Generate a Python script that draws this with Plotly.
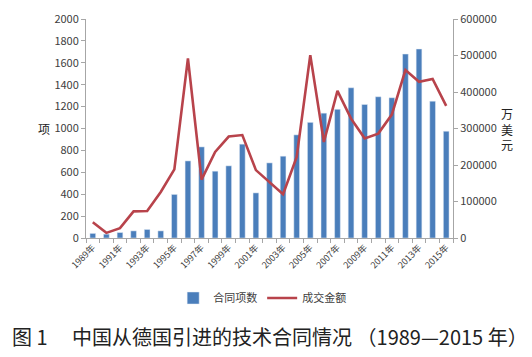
import plotly.graph_objects as go

years = list(range(1989, 2016))
contracts = [42, 35, 50, 65, 78, 65, 398, 704, 832, 610, 659, 857, 412, 686, 747,
             942, 1056, 1140, 1175, 1372, 1220, 1290, 1281, 1680, 1726, 1250, 975]
amount = [43000, 14000, 27000, 73000, 74000, 126000, 188000, 492000, 160000, 236000,
          278000, 282000, 186000, 154000, 120000, 222000, 501000, 263000, 403000, 327000,
          273000, 286000, 338000, 460000, 428000, 436000, 362000]
tick_years = years[::2]
tick_labels = [f"{y}年" for y in tick_years]

FONT = "Noto Sans CJK SC"
BLUE = "#4a7ebb"
RED = "#b8434b"
AX = "#a6a6a6"
TXT = "#404040"

fig = go.Figure()
fig.add_trace(go.Bar(x=years, y=contracts, name="合同项数", marker_color=BLUE,
                     width=0.42, yaxis="y"))
fig.add_trace(go.Scatter(x=years, y=amount, name="成交金额", mode="lines",
                         line=dict(color=RED, width=2.6), yaxis="y2"))

fig.update_layout(
    width=524, height=349, autosize=False,
    margin=dict(l=78, r=79, t=11, b=119, autoexpand=False),
    paper_bgcolor="white", plot_bgcolor="white",
    font=dict(family=FONT, color=TXT, size=11),
    showlegend=True,
    legend=dict(orientation="h", x=0.48, xanchor="center", y=-0.274, yanchor="middle",
                font=dict(size=11, color=TXT), tracegroupgap=0,
                bgcolor="rgba(0,0,0,0)"),
    xaxis=dict(range=[1988.5, 2015.5], tickmode="array", tickvals=tick_years,
               ticktext=tick_labels, tickangle=-45, ticks="", showgrid=False,
               showline=True, linecolor=AX, linewidth=1, zeroline=False,
               tickfont=dict(size=9, color=TXT),
               minor=dict(ticks="outside", tick0=1988.5, dtick=1, ticklen=4,
                          tickcolor=AX, showgrid=False)),
    yaxis=dict(range=[0, 2000], dtick=200, showgrid=False, showline=True,
               linecolor=AX, ticks="outside", ticklen=4, tickcolor=AX,
               zeroline=False, tickfont=dict(size=11, color=TXT), tickformat="d"),
    yaxis2=dict(range=[0, 600000], dtick=100000, overlaying="y", side="right",
                showgrid=False, showline=True, linecolor=AX, ticks="outside",
                ticklen=4, tickcolor=AX, zeroline=False,
                tickfont=dict(size=11, color=TXT), tickformat="d"),
    bargap=0.5,
)

fig.add_annotation(text="项", xref="paper", yref="paper", x=-0.135, y=0.5,
                   showarrow=False, font=dict(size=12, color="#222"))
fig.add_annotation(text="万<br>美<br>元", xref="paper", yref="paper", x=1.168, y=0.5,
                   showarrow=False, font=dict(size=12, color="#222"))
fig.add_annotation(text="图 1　 中国从德国引进的技术合同情况 （1989—2015 年）",
                   xref="paper", yref="paper", x=0.5, y=-0.452, yanchor="middle",
                   showarrow=False, font=dict(size=20, color="#222", family=FONT))

fig.write_html("out.html")
